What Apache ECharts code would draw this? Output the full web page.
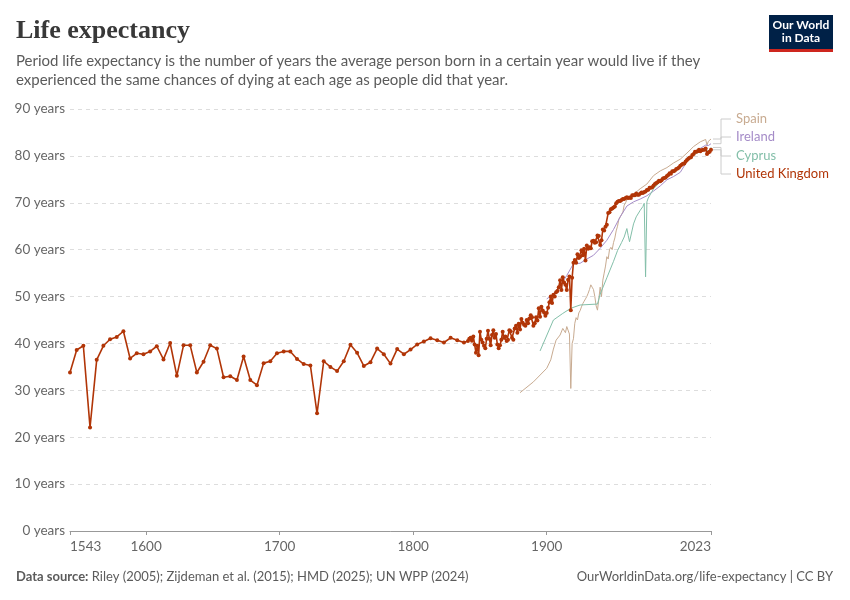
<!DOCTYPE html>
<html>
<head>
<meta charset="utf-8">
<script src="https://cdn.jsdelivr.net/npm/echarts@6/dist/echarts.min.js"></script>
<style>
html,body{margin:0;padding:0;background:#fff;}
#chart{width:850px;height:600px;}
</style>
</head>
<body>
<div id="chart"></div>
<script>
// United Kingdom: 5-yearly estimates before 1841
var ukYearsEarly = [1543,1548,1553,1558,1563,1568,1573,1578,1583,1588,
    1593,1598,1603,1608,1613,1618,1623,1628,1633,1638,
    1643,1648,1653,1658,1663,1668,1673,1678,1683,1688,
    1693,1698,1703,1708,1713,1718,1723,1728,1733,1738,
    1743,1748,1753,1758,1763,1768,1773,1778,1783,1788,
    1793,1798,1803,1808,1813,1818,1823,1828,1833,1838];
var ukValsEarly = [33.8,38.6,39.5,22.1,36.5,39.5,40.9,41.4,42.6,36.8,
    37.9,37.7,38.3,39.4,36.6,40.1,33.1,39.6,39.6,33.8,
    36.1,39.6,38.9,32.8,33.0,32.2,37.2,32.2,31.1,35.8,
    36.2,37.9,38.3,38.3,36.7,35.6,35.3,25.1,36.2,35.0,
    34.1,36.2,39.7,38.0,35.2,36.0,38.9,37.7,35.7,38.8,
    37.7,38.7,39.8,40.4,41.1,40.7,40.2,41.2,40.7,40.2];

// United Kingdom: yearly from 1841 to 2023
var ukLateStart = 1841;
var ukValsLate = [
    40.5,41.0,41.2,40.6,41.5,39.8,38.0,39.5,37.5,            // 1841-1849
    42.5,40.8,40.2,39.5,39.0,41.0,42.7,41.0,39.6,41.8,       // 1850s
    42.8,41.2,42.0,39.8,39.0,39.6,40.8,42.5,41.2,41.5,       // 1860s
    40.5,40.8,42.8,42.6,41.2,40.8,43.2,43.8,42.3,44.2,       // 1870s
    43.0,45.2,44.4,44.0,43.8,45.0,44.3,45.3,46.0,45.6,       // 1880s
    43.8,44.3,45.6,44.9,47.5,45.7,47.8,47.0,46.6,45.9,       // 1890s
    46.5,47.6,48.8,50.0,48.6,50.4,50.0,50.9,51.2,52.0,       // 1900s
    53.5,51.4,54.1,53.0,52.5,51.4,53.6,54.3,47.1,54.0,       // 1910s
    57.2,57.8,57.2,59.0,58.2,58.5,59.9,58.8,60.2,57.7,       // 1920s
    60.9,60.2,60.5,60.3,61.8,61.9,61.5,61.6,63.0,62.9,       // 1930s
    61.0,62.0,64.3,64.1,64.9,65.3,67.8,68.0,68.6,68.8,       // 1940s
    69.0,69.2,69.9,70.2,70.4,70.4,70.6,70.8,70.8,71.0,       // 1950s
    71.2,71.0,71.1,71.0,71.6,71.6,71.6,72.0,71.7,71.7,       // 1960s
    72.0,72.2,72.1,72.3,72.4,72.7,72.8,73.2,73.2,73.3,       // 1970s
    73.7,74.0,74.2,74.4,74.7,74.6,74.8,75.2,75.3,75.4,       // 1980s
    75.7,75.9,76.3,76.2,76.7,76.7,76.9,77.2,77.3,77.5,       // 1990s
    77.9,78.1,78.3,78.4,78.8,79.1,79.4,79.6,79.7,80.2,       // 2000s
    80.4,80.9,80.9,81.0,81.3,81.0,81.2,81.3,81.3,81.6,       // 2010s
    80.4,80.7,80.9,81.3                                      // 2020-2023
];

var spainYears = [1880,1890,1900,1903,1905,1907,1910,1912,1914,1915,1916,1917,1918,1919,
    1920,1921,1922,1923,1924,1925,1926,1927,1928,1929,1930,1931,1932,1933,1934,1935,1936,1937,1938,1939,
    1940,1941,1942,1943,1944,1945,1946,1947,1948,1949,1950,1951,1952,1953,1954,1955,1956,1957,1958,1959,
    1960,1965,1970,1975,1980,1985,1990,1995,2000,2005,2010,2015,2019,2020,2021,2022,2023];
var spainVals = [29.5,31.8,34.7,36.5,38.8,40.7,41.8,43.2,42.3,43.6,43.6,42.0,30.4,40.0,
    41.0,44.3,45.5,45.0,46.5,47.0,47.8,48.5,49.0,49.5,50.0,50.7,51.5,52.5,52.0,51.5,50.0,48.0,47.1,49.5,
    52.0,50.0,53.5,55.0,56.5,58.5,58.0,60.0,60.5,60.0,61.5,62.5,64.0,65.0,66.5,67.0,67.5,68.0,69.5,70.0,
    70.6,71.8,73.0,74.0,75.8,76.8,77.5,78.5,79.3,80.6,82.0,83.0,83.5,82.3,83.1,83.3,83.6];

var irelandYears = [1900,1905,1910,1915,1920,1925,1930,1935,1940,1945,1950,1955,1960,1965,1970,1975,
    1980,1985,1990,1995,2000,2005,2010,2015,2019,2020,2021,2022,2023];
var irelandVals = [49.5,50.5,52.3,54.5,57.0,57.1,58.0,58.8,60.3,62.0,64.3,67.0,69.3,70.2,70.8,71.5,
    72.5,73.6,74.9,75.6,76.5,78.8,80.6,81.6,82.3,82.3,82.2,82.4,82.6];

var cyprusYears = [1895,1905,1912,1918,1925,1938,1940,1945,1950,1953,1956,1958,1960,1961,1962,1965,1967,
    1970,1972,1973,1974,1975,1976,1980,1985,1990,1995,2000,2005,2010,2015,2019,2020,2021,2022,2023];
var cyprusVals = [38.4,45.0,46.4,47.5,48.2,48.4,50.5,54.0,57.5,59.8,61.5,62.7,64.5,63.0,61.7,65.5,67.0,
    68.4,69.2,69.9,54.2,70.2,71.0,73.0,74.5,75.5,76.8,77.8,79.0,80.2,81.0,81.6,81.4,80.8,81.4,81.8];

var xTicks = [1543,1600,1700,1800,1900,2023];
var countryNames = ['Spain','Ireland','Cyprus','United Kingdom'];
var countryColors = ['#c8ab91','#a58cc8','#83bfa9','#b13507'];

function pairs(years, vals) {
    var out = [];
    for (var i = 0; i < vals.length; i++) out.push([years[i], vals[i]]);
    return out;
}

var ukData = pairs(ukYearsEarly, ukValsEarly);
for (var i = 0; i < ukValsLate.length; i++) {
    ukData.push([ukLateStart + i, ukValsLate[i]]);
}

var font = 'Lato, "Noto Sans", sans-serif';

var option = {
    animation: false,
    backgroundColor: '#fff',
    textStyle: {fontFamily: font},
    title: [{
        text: 'Life expectancy',
        left: 16, top: 18, padding: 0,
        textStyle: {fontFamily: '"Liberation Serif", "DejaVu Serif", serif', fontSize: 26, fontWeight: 'bold', color: '#383838'}
    }, {
        text: 'Period life expectancy is the number of years the average person born in a certain year would live if they\nexperienced the same chances of dying at each age as people did that year.',
        left: 16, top: 52, padding: 0,
        textStyle: {fontFamily: font, fontSize: 15, fontWeight: 'normal', color: '#5b5b5b', lineHeight: 19}
    }, {
        text: '{b|Data source:} Riley (2005); Zijdeman et al. (2015); HMD (2025); UN WPP (2024)',
        left: 16, top: 570, padding: 0,
        textStyle: {fontFamily: font, fontSize: 13, fontWeight: 'normal', color: '#5b5b5b',
            rich: {b: {fontFamily: font, fontSize: 13, fontWeight: 'bold', color: '#5b5b5b'}}}
    }, {
        text: 'OurWorldinData.org/life-expectancy | CC BY',
        right: 17, top: 570, padding: 0,
        textStyle: {fontFamily: font, fontSize: 13, fontWeight: 'normal', color: '#5b5b5b'}
    }],
    grid: {left: 70, right: 139, top: 109, bottom: 69},
    xAxis: {
        type: 'value',
        min: 1543,
        max: 2023,
        axisLine: {show: true, lineStyle: {color: '#999'}},
        axisTick: {show: true, customValues: xTicks, length: 4, lineStyle: {color: '#999'}},
        splitLine: {show: false},
        axisLabel: {
            customValues: xTicks,
            color: '#666', fontSize: 13.5, fontFamily: font, margin: 9,
            alignMinLabel: 'left', alignMaxLabel: 'right',
            formatter: function (v) { return String(v); }
        }
    },
    yAxis: {
        type: 'value',
        min: 0, max: 90, interval: 10,
        axisLine: {show: false},
        axisTick: {show: false},
        axisLabel: {color: '#666', fontSize: 13.5, fontFamily: font, margin: 5, formatter: '{value} years'},
        splitLine: {lineStyle: {color: '#ddd', type: [4, 4]}}
    },
    series: [
        {name: 'Spain', type: 'line', data: pairs(spainYears, spainVals), showSymbol: false,
            lineStyle: {width: 1, color: countryColors[0]}, z: 2},
        {name: 'Ireland', type: 'line', data: pairs(irelandYears, irelandVals), showSymbol: false,
            lineStyle: {width: 1, color: countryColors[1]}, z: 2},
        {name: 'Cyprus', type: 'line', data: pairs(cyprusYears, cyprusVals), showSymbol: false,
            lineStyle: {width: 1, color: countryColors[2]}, z: 2},
        {name: 'United Kingdom', type: 'line', data: ukData, symbol: 'circle', symbolSize: 4,
            showSymbol: true, itemStyle: {color: countryColors[3]},
            lineStyle: {width: 1.6, color: countryColors[3]}, z: 5}
    ]
};

var myChart = echarts.init(document.getElementById('chart'));
myChart.setOption(option);

// logo and end-of-line labels with connector lines
var labelYs = [119, 137, 156, 174];
var ends = [
    [spainYears[spainYears.length - 1], spainVals[spainVals.length - 1]],
    [irelandYears[irelandYears.length - 1], irelandVals[irelandVals.length - 1]],
    [cyprusYears[cyprusYears.length - 1], cyprusVals[cyprusVals.length - 1]],
    ukData[ukData.length - 1]
];
var graphics = [
    {type: 'rect', shape: {x: 769, y: 15, width: 64, height: 37}, style: {fill: '#002147'}},
    {type: 'rect', shape: {x: 769, y: 49, width: 64, height: 3}, style: {fill: '#ce261e'}},
    {type: 'text', x: 801, y: 19, style: {text: 'Our World\nin Data', fill: '#fff', font: 'bold 12px Lato', align: 'center', lineHeight: 13}}
];
for (var k = 0; k < ends.length; k++) {
    var p = myChart.convertToPixel({gridIndex: 0}, ends[k]);
    graphics.push({
        type: 'polyline',
        shape: {points: [[p[0] + 2, p[1]], [721, p[1]], [721, labelYs[k]], [731, labelYs[k]]]},
        style: {stroke: '#ccc', lineWidth: 1, fill: null}
    });
    graphics.push({
        type: 'text', x: 736, y: labelYs[k],
        style: {text: countryNames[k], fill: countryColors[k], font: '13px Lato', verticalAlign: 'middle'}
    });
}
myChart.setOption({graphic: graphics});
</script>
</body>
</html>
